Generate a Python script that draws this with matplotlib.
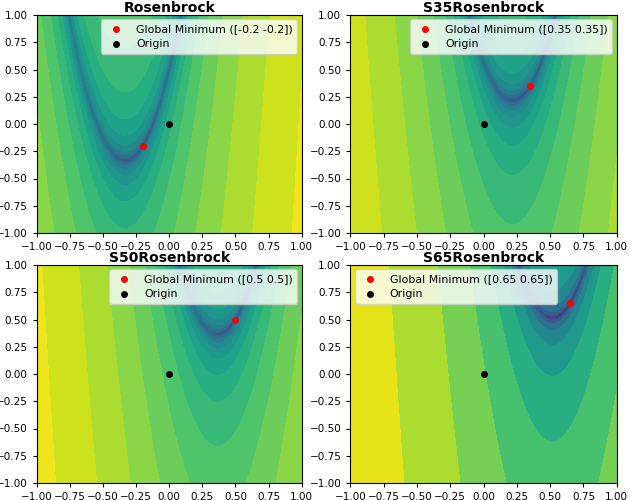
import numpy as np
import matplotlib
matplotlib.use('Agg')
import matplotlib.pyplot as plt

# shifted Rosenbrock, domain [-5, 10] squeezed into [-1, 1]
titles = ['Rosenbrock', 'S35Rosenbrock', 'S50Rosenbrock', 'S65Rosenbrock']
minima = [-0.2, 0.35, 0.5, 0.65]
legend_loc = ['upper right', 'upper right', 'upper right', 'upper left']
ticks = [-1.0, -0.75, -0.5, -0.25, 0.0, 0.25, 0.5, 0.75, 1.0]

# contour levels on log(f)
lev_step = [1.0, 1.0, 1.0, 1.5]
lev_low = [-5.3, -5.1, -5.3, -3.1]
lev_high = [14.7, 14.9, 14.7, 14.9]

def rosen(x, y, m):
    z1 = 7.5 * (x - m) + 1
    z2 = 7.5 * (y - m) + 1
    return 100 * (z2 - z1**2)**2 + (1 - z1)**2

xs = np.linspace(-1, 1, 200)
X, Y = np.meshgrid(xs, xs)

fig = plt.figure(figsize=(6.3, 5.0), dpi=100)
pos = [[0.058, 0.534, 0.421, 0.436], [0.556, 0.534, 0.423, 0.436],
       [0.058, 0.034, 0.421, 0.436], [0.556, 0.034, 0.423, 0.436]]

for i, (t, m) in enumerate(zip(titles, minima)):
    ax = fig.add_axes(pos[i])
    Z = np.log(rosen(X, Y, m))
    lv = np.arange(lev_low[i], lev_high[i] + 0.01, lev_step[i])
    ax.contourf(X, Y, np.clip(Z, lv[0] + 1e-6, None), levels=lv, cmap='viridis')
    ax.scatter([m], [m], c='red', s=16, label=f'Global Minimum ({np.array([m, m])})', zorder=3)
    ax.scatter([0], [0], c='black', s=16, label='Origin', zorder=3)
    ax.set_xlim(-1, 1); ax.set_ylim(-1, 1)
    ax.set_xticks(ticks); ax.set_yticks(ticks)
    ax.tick_params(labelsize=7.5, length=3)
    ax.set_title(t, fontsize=10, fontweight='bold', pad=2)
    ax.legend(loc=legend_loc[i], fontsize=7.9, borderaxespad=0.4)

plt.savefig('out.png', dpi=100)
